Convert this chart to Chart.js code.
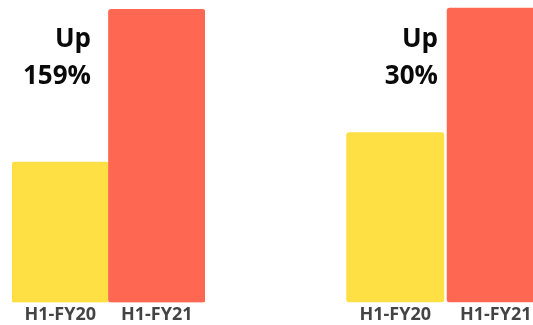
<!DOCTYPE html>
<html>
<head>
<meta charset="utf-8">
<script src="https://cdn.jsdelivr.net/npm/chart.js@4"></script>
<style>
  html, body { margin: 0; padding: 0; background: #fff; overflow: hidden; width: 533px; height: 325px; }
  .panel { position: absolute; top: 0; height: 328px; }
  #leftWrap  { left: 0;     width: 266px; }
  #rightWrap { left: 266px; width: 300px; }
</style>
</head>
<body>
<div class="panel" id="leftWrap"><canvas id="leftChart"></canvas></div>
<div class="panel" id="rightWrap"><canvas id="rightChart"></canvas></div>
<script>
// ── Data ─────────────────────────────────────────────────────
const periods      = ['H1-FY20', 'H1-FY21'];
const leftValues   = [46.4, 96.9];
const rightValues  = [56.3, 97.4];
const leftCallout  = ['Up', '159%'];
const rightCallout = ['Up', '30%'];
const barColors    = ['#FEE044', '#FE6751'];

// ── Callout text plugin ──────────────────────────────────────
const calloutPlugin = {
  id: 'callout',
  afterDraw(chart, args, opts) {
    const { ctx } = chart;
    ctx.save();
    ctx.textAlign = 'right';
    ctx.textBaseline = 'alphabetic';
    ctx.fillStyle = '#0a0a0a';
    ctx.font = "bold 26px 'Open Sans'";
    opts.lines.forEach((t, i) => ctx.fillText(t, opts.x, opts.y + i * 37));
    ctx.restore();
  }
};

function makeChart(id, values, callout, pad, barPct, textX) {
  const ctx = document.getElementById(id).getContext('2d');
  return new Chart(ctx, {
    type: 'bar',
    data: {
      labels: periods,
      datasets: [{
        data: values,
        backgroundColor: barColors,
        borderWidth: 0,
        borderRadius: 3,
        borderSkipped: false,
        barPercentage: barPct,
        categoryPercentage: 1,
      }]
    },
    options: {
      responsive: true,
      maintainAspectRatio: false,
      animation: false,
      layout: { padding: { left: pad.left, right: pad.right, top: 0, bottom: 0 } },
      plugins: {
        legend: { display: false },
        tooltip: { enabled: false },
        callout: { lines: callout, x: textX, y: 47 },
      },
      scales: {
        x: {
          grid: { display: false, drawTicks: false },
          border: { display: false },
          ticks: {
            color: '#444',
            padding: 2,
            font: { family: "'Open Sans'", size: 18, weight: 'bold' },
          }
        },
        y: { display: false, min: 0, max: 100 }
      }
    },
    plugins: [calloutPlugin]
  });
}

makeChart('leftChart',  leftValues,  leftCallout,  { left: 12, right: 61 }, 1,     91);
makeChart('rightChart', rightValues, rightCallout, { left: 79, right: 20 }, 0.975, 172);
</script>
</body>
</html>
